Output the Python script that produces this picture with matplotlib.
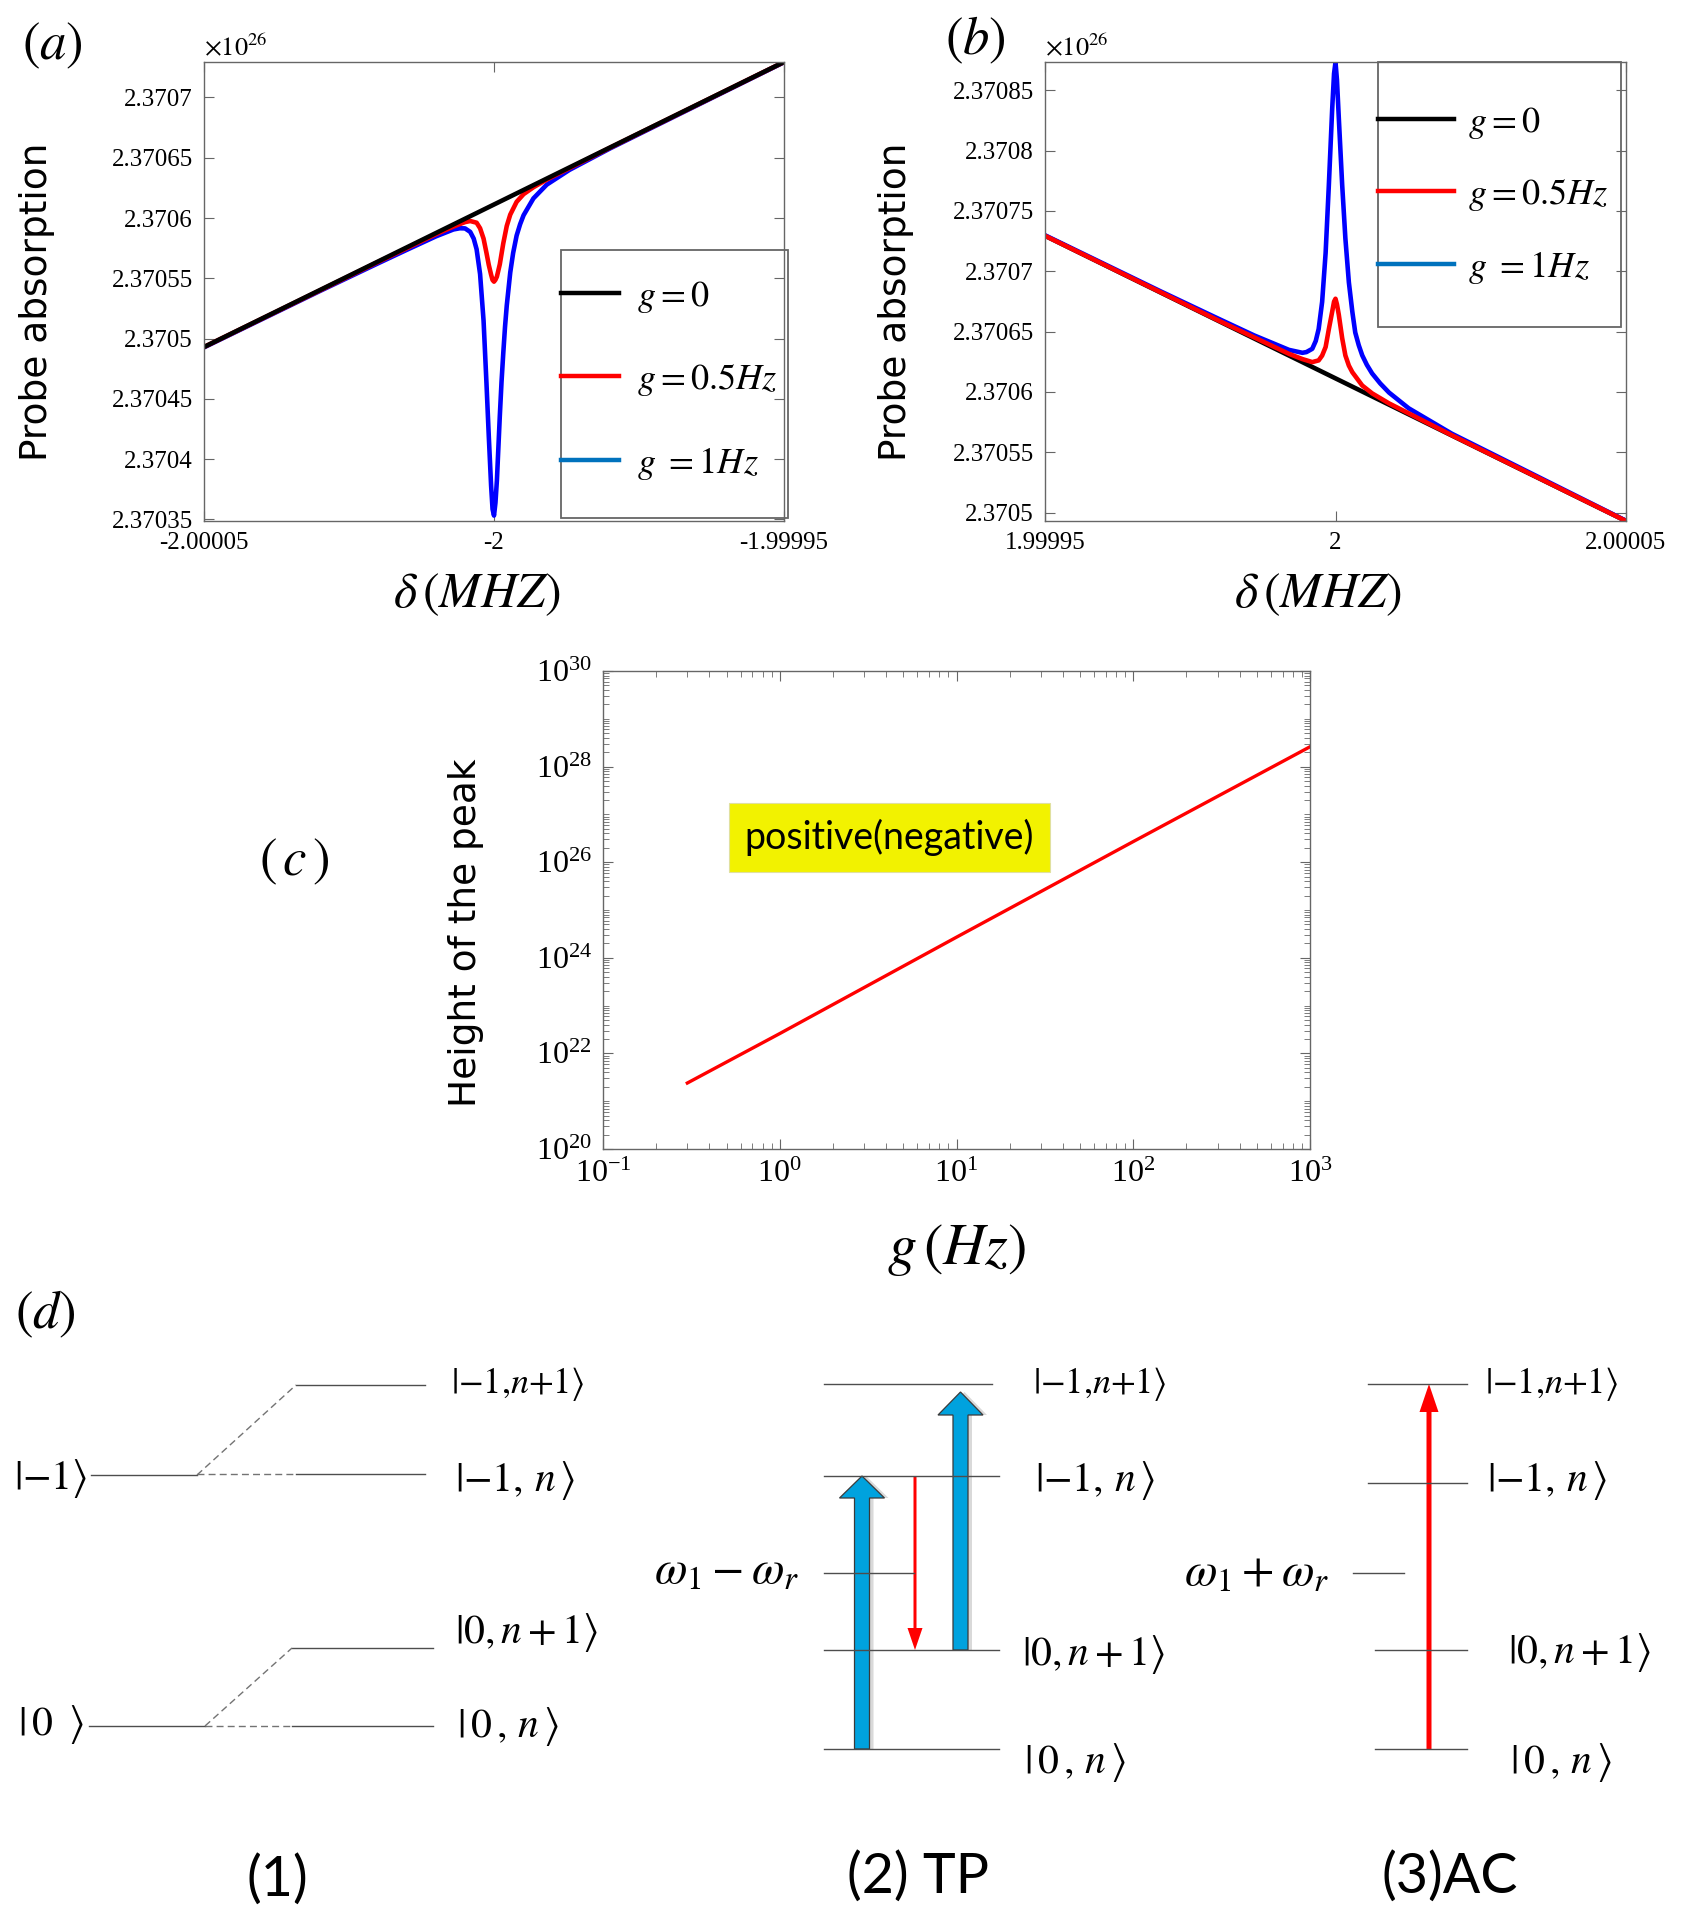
import numpy as np
import matplotlib
matplotlib.use('Agg')
import matplotlib.pyplot as plt
from matplotlib.lines import Line2D
from matplotlib.patches import Rectangle, FancyArrow
from matplotlib.ticker import LogLocator, NullFormatter

plt.rcParams['font.family'] = ['Liberation Serif', 'DejaVu Serif']
plt.rcParams['mathtext.fontset'] = 'stix'

# ---------------- data: panel (a) ----------------
a_x_black = [-2.00005, -1.99995]
a_y_black = [2.3704930, 2.3707294]
a_x_red = [-2.00005, -2.00002, -2.00001, -2.000007, -2.000005, -2.0000041, -2.000003,
           -2.0000024, -2.0000018, -2.0000013, -2.0000009, -2.0000005, -2.00000025, -2.0,
           -1.99999975, -1.9999995, -1.999999, -1.9999984, -1.9999978, -1.9999972,
           -1.9999961, -1.9999949, -1.9999932, -1.9999909, -1.99998, -1.99995]
a_y_red = [2.3704930, 2.3705635, 2.3705866, 2.3705929, 2.3705966, 2.3705975, 2.3705961,
           2.3705915, 2.3705829, 2.3705711, 2.3705611, 2.3705530, 2.3705486, 2.3705472,
           2.3705488, 2.3705514, 2.3705616, 2.3705790, 2.3705934, 2.3706028,
           2.3706134, 2.3706198, 2.3706255, 2.3706319, 2.3706583, 2.3707294]
a_x_blue = [-2.00005, -2.00003, -2.00002, -2.000015, -2.00001, -2.000007, -2.0000059,
            -2.000005, -2.0000041, -2.0000035, -2.000003, -2.0000024, -2.0000018,
            -2.0000013, -2.0000009, -2.0000005, -2.00000025, -2.0, -1.99999975,
            -1.9999995, -1.999999, -1.9999987, -1.9999984, -1.9999981, -1.9999978,
            -1.9999972, -1.9999967, -1.9999961, -1.9999955, -1.9999949, -1.9999932,
            -1.9999909, -1.999987, -1.99998, -1.99995]
a_y_blue = [2.3704927, 2.3705395, 2.3705624, 2.3705737, 2.3705848, 2.3705905, 2.3705915,
            2.3705914, 2.3705885, 2.3705829, 2.3705741, 2.3705535, 2.3705149,
            2.3704631, 2.3704191, 2.3703780, 2.3703586, 2.3703532, 2.3703638,
            2.3703824, 2.3704356, 2.3704643, 2.3704880, 2.3705097, 2.3705274,
            2.3705548, 2.3705710, 2.3705854, 2.3705948, 2.3706023, 2.3706163,
            2.3706277, 2.3706399, 2.3706577, 2.3707292]
a_xticks = [-2.00005, -2.0, -1.99995]
a_yticks = [2.37035, 2.3704, 2.37045, 2.3705, 2.37055, 2.3706, 2.37065, 2.3707]

# ---------------- data: panel (b) ----------------
b_x_black = [1.99995, 2.00005]
b_y_black = [2.3707294, 2.3704930]
b_x_blue = [1.99995, 1.99997, 1.99998, 1.999986, 1.999992, 1.9999943, 1.999995, 1.999996,
            1.9999966, 1.9999971, 1.9999977, 1.9999983, 1.99999885, 1.99999943, 1.99999975,
            2.0, 2.00000025, 2.00000057, 2.00000115, 2.0000017, 2.0000023, 2.0000029,
            2.0000034, 2.000004, 2.0000046, 2.0000054, 2.0000063, 2.0000077, 2.0000092,
            2.0000126, 2.00002, 2.00005]
b_y_blue = [2.3707298, 2.3706831, 2.3706603, 2.3706468, 2.3706348, 2.3706324, 2.3706330,
            2.3706357, 2.3706422, 2.3706521, 2.3706746, 2.3707152, 2.3707709, 2.3708345,
            2.3708638, 2.3708732, 2.3708586, 2.3708269, 2.3707715, 2.3707272, 2.3706908,
            2.3706663, 2.3706492, 2.3706387, 2.3706303, 2.3706224, 2.3706153, 2.3706070,
            2.3705995, 2.3705864, 2.3705654, 2.3704932]
b_x_red = [1.99995, 1.99998, 1.999992, 1.9999943, 1.999996, 1.9999971, 1.9999977, 1.9999983,
           1.99999885, 1.99999943, 1.99999975, 2.0, 2.00000025, 2.00000057, 2.00000115,
           2.0000017, 2.0000023, 2.0000029, 2.0000046, 2.0000063, 2.0000092, 2.00002, 2.00005]
b_y_red = [2.3707294, 2.3706588, 2.3706315, 2.3706272, 2.3706247, 2.3706261, 2.3706301,
           2.3706372, 2.3706519, 2.3706665, 2.3706748, 2.3706772, 2.3706726, 2.3706639,
           2.3706445, 2.3706302, 2.3706218, 2.3706163, 2.3706053, 2.3705988, 2.3705905,
           2.3705641, 2.3704930]
b_xticks = [1.99995, 2.0, 2.00005]
b_yticks = [2.3705, 2.37055, 2.3706, 2.37065, 2.3707, 2.37075, 2.3708, 2.37085]

legend_labels = [r'$g=0$', r'$g=0.5Hz$', r'$g\ =1Hz$']
legend_colors = ['black', 'red', '#0072BD']

# ---------------- data: panel (c) ----------------
c_g_hz = [0.3, 1, 10, 100, 1000]
c_peak_height = [2.4e21, 2.6e22, 2.7e24, 2.7e26, 2.6e28]
c_xticks = [0.1, 1, 10, 100, 1000]
c_yticks = [1e20, 1e22, 1e24, 1e26, 1e28, 1e30]

# ---------------- panel (d) schematic layout (figure pixels) ----------------
d_solid = [((91, 197), (1475, 1475)), ((296, 425), (1385, 1385)), ((296, 425), (1474, 1474)),
           ((89, 205), (1726, 1726)), ((292, 433), (1648, 1648)), ((292, 433), (1726, 1726)),
           ((824, 992), (1384, 1384)), ((824, 999), (1476, 1476)), ((824, 914), (1573, 1573)),
           ((824, 999), (1650, 1650)), ((824, 999), (1749, 1749)),
           ((1368, 1467), (1384, 1384)), ((1368, 1467), (1483, 1483)), ((1353, 1404), (1573, 1573)),
           ((1375, 1467), (1650, 1650)), ((1375, 1467), (1749, 1749))]
d_dashed = [((197, 296), (1475, 1385)), ((197, 296), (1474, 1474)),
            ((205, 292), (1726, 1648)), ((205, 292), (1726, 1726))]
KET_TOP = r'$|{-}1{,}n{+}1\rangle$'
KET_MN = r'$|{-}1,\,n\,\rangle$'
KET_0N1 = r'$|0,n+1\rangle$'
KET_0N = r'$|\,0\,,\,n\,\rangle$'
d_kets = [(14, 1478, r'$|{-}1\rangle$', 30), (18, 1725, r'$|\,0\;\;\rangle$', 30),
          (451, 1384, KET_TOP, 26), (455, 1481, KET_MN, 30), (455, 1633, KET_0N1, 30), (457, 1726, KET_0N, 30),
          (1033, 1384, KET_TOP, 26), (1035, 1481, KET_MN, 30), (1022, 1655, KET_0N1, 30), (1024, 1763, KET_0N, 30),
          (1485, 1384, KET_TOP, 26), (1487, 1481, KET_MN, 30), (1508, 1653, KET_0N1, 30), (1510, 1762, KET_0N, 30)]
d_freq = [(727, 1572, r'$\omega_1-\omega_r$'), (1257, 1574, r'$\omega_1+\omega_r$')]
d_captions = [(277, 1880, '(1)'), (918, 1877, '(2) TP'), (1450, 1877, '(3)AC')]
# arrows: x, y_start, y_end, shaft width, head width, head length
d_blue_arrows = [(862, 1749, 1476, 15, 45, 22), (960.5, 1650, 1392, 15, 45, 23)]
d_red_arrows = [(915, 1476, 1650, 3, 15, 22), (1429, 1749, 1384, 5, 19, 28)]
panel_labels = [(52, 46, r'$(a)$'), (975, 40, r'$(b)$'), (294, 862, r'$(\,c\,)$'), (45, 1314, r'$(d)$')]

W, H = 1692, 1913
fig = plt.figure(figsize=(W / 100, H / 100), dpi=100)

ov = fig.add_axes([0, 0, 1, 1])
ov.set_xlim(0, W)
ov.set_ylim(H, 0)
ov.axis('off')


def px_axes(l, t, r, b):
    return fig.add_axes([l / W, 1 - b / H, (r - l) / W, (b - t) / H])


def style(ax, labelsize):
    for s in ax.spines.values():
        s.set_color('0.4')
        s.set_linewidth(1.0)
    ax.tick_params(which='both', direction='in', top=True, right=True, color='0.4',
                   labelsize=labelsize, pad=8)
    ax.tick_params(which='major', length=7, width=0.8)
    ax.tick_params(which='minor', length=4, width=0.6)


LW = 3.3

# ---- panel (a)
axa = px_axes(204, 62, 784, 521)
axa.plot(a_x_blue, a_y_blue, color='blue', lw=LW, solid_joinstyle='round')
axa.plot(a_x_red, a_y_red, color='red', lw=LW, solid_joinstyle='round')
axa.plot(a_x_black, a_y_black, color='black', lw=LW)
axa.set_xlim(-2.00005, -1.99995)
axa.set_ylim(2.3703487, 2.3707294)
axa.set_xticks(a_xticks, ['%g' % v for v in a_xticks])
axa.set_yticks(a_yticks, ['%g' % v for v in a_yticks])
style(axa, 18)

# ---- panel (b)
axb = px_axes(1045, 62, 1626, 521)
axb.plot(b_x_black, b_y_black, color='black', lw=LW)
axb.plot(b_x_blue, b_y_blue, color='blue', lw=LW, solid_joinstyle='round')
axb.plot(b_x_red, b_y_red, color='red', lw=LW, solid_joinstyle='round')
axb.set_xlim(1.99995, 2.00005)
axb.set_ylim(2.370493, 2.3708734)
axb.set_xticks(b_xticks, ['%g' % v for v in b_xticks])
axb.set_yticks(b_yticks, ['%g' % v for v in b_yticks])
style(axb, 18)

for ax, lab_x, leg_anchor, hl, htp, lsp, frame in [
        (axa, -0.288, (0.6155, 0.527), 1.6, 0.5, 1.3, (0.6155, 0.0065, 1.007, 0.590)),
        (axb, -0.256, (0.573, 0.907), 2.1, 0.4, 1.0, (0.573, 0.423, 0.991, 1.0))]:
    ax.set_ylabel('Probe absorption', family='DejaVu Sans', fontsize=27, va='center')
    ax.yaxis.set_label_coords(lab_x, 0.478)
    ax.set_xlabel(r'$\delta\,(MHZ)$', fontsize=36, va='center')
    ax.xaxis.set_label_coords(0.47, -0.16)
    ax.text(0.0, 1.004, r'$\times10^{26}$', transform=ax.transAxes, fontsize=19,
            ha='left', va='bottom')
    handles = [Line2D([], [], color=c, lw=3.2) for c in legend_colors]
    ax.legend(handles, legend_labels, loc='upper left', bbox_to_anchor=leg_anchor,
              frameon=False, borderpad=0, borderaxespad=0, handlelength=hl,
              handletextpad=htp, labelspacing=lsp, prop={'size': 26})
    x0, y0, x1, y1 = frame
    ax.add_patch(Rectangle((x0, y0), x1 - x0, y1 - y0, transform=ax.transAxes,
                           fill=False, ec='0.4', lw=1.3, clip_on=False))

# ---- panel (c)
axc = px_axes(603, 671, 1310, 1149)
axc.loglog(c_g_hz, c_peak_height, color='red', lw=2.4)
axc.set_xlim(0.1, 1000)
axc.set_ylim(1e20, 1e30)
axc.set_xticks(c_xticks)
axc.set_yticks(c_yticks)
axc.xaxis.set_minor_locator(LogLocator(base=10, subs=np.arange(2, 10), numticks=200))
axc.yaxis.set_minor_locator(LogLocator(base=10, subs=np.arange(1, 10), numticks=400))
axc.xaxis.set_minor_formatter(NullFormatter())
axc.yaxis.set_minor_formatter(NullFormatter())
style(axc, 23)
axc.set_ylabel('Height of the peak', family='DejaVu Sans', fontsize=27, va='center')
axc.yaxis.set_label_coords(-0.194, 0.452)
axc.set_xlabel(r'$g\,(Hz)$', fontsize=42, va='center')
axc.xaxis.set_label_coords(0.5, -0.211)
axc.text(0.405, 0.652, 'positive(negative)', transform=axc.transAxes, ha='center',
         va='center', family=['Lato', 'DejaVu Sans'], fontsize=27,
         bbox=dict(boxstyle='square,pad=0.42', fc='#F2F200', ec='#E0E0A0', lw=0.8))

# ---- panel (d) schematic
for xs, ys in d_solid:
    ov.plot(xs, ys, color='0.3', lw=1.0)
for xs, ys in d_dashed:
    ov.plot(xs, ys, color='0.45', lw=1.0, ls=(0, (5, 3)))
for x, y, s, fs in d_kets:
    ov.text(x, y, s, fontsize=fs, ha='left', va='center')
for x, y, s in d_freq:
    ov.text(x, y, s, fontsize=34, ha='center', va='center')
for x, y, s in d_captions:
    ov.text(x, y, s, fontsize=40, ha='center', va='center', family=['Lato', 'DejaVu Sans'])
for x, y0, y1, w, hw, hl in d_blue_arrows:
    ov.add_patch(FancyArrow(x + 4, y0, 0, y1 - y0, width=w, head_width=hw, head_length=hl,
                            length_includes_head=True, fc='0.85', ec='none'))
    ov.add_patch(FancyArrow(x, y0, 0, y1 - y0, width=w, head_width=hw, head_length=hl,
                            length_includes_head=True, fc='#00A2DE', ec='#3a3a3a', lw=0.9))
for x, y0, y1, w, hw, hl in d_red_arrows:
    ov.add_patch(FancyArrow(x, y0, 0, y1 - y0, width=w, head_width=hw, head_length=hl,
                            length_includes_head=True, fc='#FF0000', ec='none'))
for x, y, s in panel_labels:
    ov.text(x, y, s, fontsize=38, ha='center', va='center')

fig.savefig('out.png', dpi=100)
